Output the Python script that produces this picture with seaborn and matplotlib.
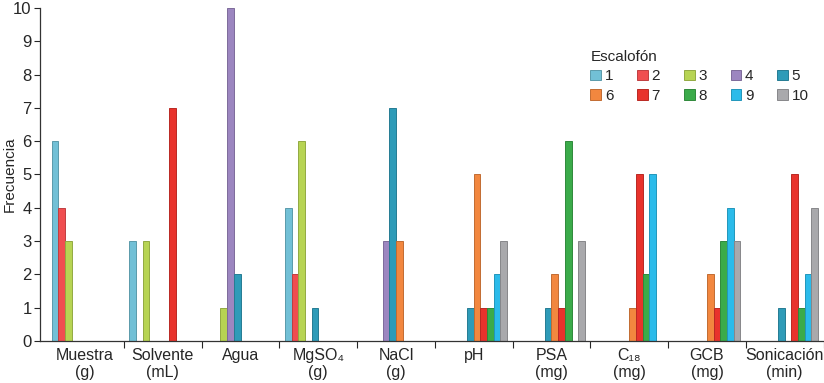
import numpy as np
import pandas as pd
import seaborn as sns
import matplotlib.pyplot as plt
import matplotlib.colors as mcolors
from matplotlib.ticker import FixedLocator

categories = ['Muestra\n(g)', 'Solvente\n(mL)', 'Agua', 'MgSO₄\n(g)', 'NaCl\n(g)',
              'pH', 'PSA\n(mg)', 'C₁₈\n(mg)', 'GCB\n(mg)', 'Sonicación\n(min)']
levels = ['1', '2', '3', '4', '5', '6', '7', '8', '9', '10']

# frequency per escalafón, one value per category (0 = no bar)
esc_1 = [6, 3, 0, 4, 0, 0, 0, 0, 0, 0]
esc_2 = [4, 0, 0, 2, 0, 0, 0, 0, 0, 0]
esc_3 = [3, 3, 1, 6, 0, 0, 0, 0, 0, 0]
esc_4 = [0, 0, 10, 0, 3, 0, 0, 0, 0, 0]
esc_5 = [0, 0, 2, 1, 7, 1, 1, 0, 0, 1]
esc_6 = [0, 0, 0, 0, 3, 5, 2, 1, 2, 0]
esc_7 = [0, 7, 0, 0, 0, 1, 1, 5, 1, 5]
esc_8 = [0, 0, 0, 0, 0, 1, 6, 2, 3, 1]
esc_9 = [0, 0, 0, 0, 0, 2, 0, 5, 4, 2]
esc_10 = [0, 0, 0, 0, 0, 3, 3, 0, 3, 4]

colors = ['#72c0d6', '#f04e50', '#b7d453', '#9c86c0', '#2e9bb8',
          '#f2873f', '#e8332c', '#3bab4a', '#2bbbea', '#a9a9ac']

series = [esc_1, esc_2, esc_3, esc_4, esc_5, esc_6, esc_7, esc_8, esc_9, esc_10]
rows = []
for lev, vals in zip(levels, series):
    for cat, v in zip(categories, vals):
        if v > 0:
            rows.append({'Parametro': cat, 'Escalofon': lev, 'Frecuencia': v})
df = pd.DataFrame(rows)

sns.set_style('ticks')
plt.rcParams['font.family'] = ['Liberation Sans', 'DejaVu Sans']

fig, ax = plt.subplots(figsize=(8.24, 3.83), dpi=100)
fig.subplots_adjust(left=0.0485, right=0.9995, bottom=0.11, top=0.979)

sns.barplot(data=df, x='Parametro', y='Frecuencia', hue='Escalofon',
            order=categories, hue_order=levels, palette=colors, saturation=1,
            width=0.86, gap=0, dodge=True, ax=ax, errorbar=None)

for p in ax.patches:
    fc = mcolors.to_rgb(p.get_facecolor())
    p.set_edgecolor(tuple(c * 0.8 for c in fc))
    p.set_linewidth(0.7)

ax.set_ylim(0, 10)
ax.set_xlim(-0.58, 9.5)
ax.set_yticks(range(0, 11))
ax.tick_params(axis='y', labelsize=12, length=4, width=0.8, pad=2)
ax.tick_params(axis='x', which='major', length=0, labelsize=11.5, pad=5)
ax.xaxis.set_minor_locator(FixedLocator(np.arange(0.5, 10, 1)))
ax.tick_params(axis='x', which='minor', length=5, width=0.8, direction='out')
ax.set_xlabel('')
ax.set_ylabel('Frecuencia', fontsize=11)
ax.yaxis.set_label_coords(-0.03, 0.5)
sns.despine(ax=ax)
for s in ['left', 'bottom']:
    ax.spines[s].set_color('#333333')
    ax.spines[s].set_linewidth(0.9)

handles, labels = ax.get_legend_handles_labels()
order = [0, 5, 1, 6, 2, 7, 3, 8, 4, 9]
leg = ax.legend([handles[i] for i in order], [labels[i] for i in order],
                title='Escalofón', ncol=5, frameon=False,
                loc='upper left', bbox_to_anchor=(0.685, 0.915),
                fontsize=11, title_fontsize=11, handlelength=0.7,
                handleheight=0.7, handletextpad=0.25, columnspacing=1.55,
                labelspacing=0.35)
leg._legend_box.align = 'left'

plt.savefig('out.png', dpi=100)
